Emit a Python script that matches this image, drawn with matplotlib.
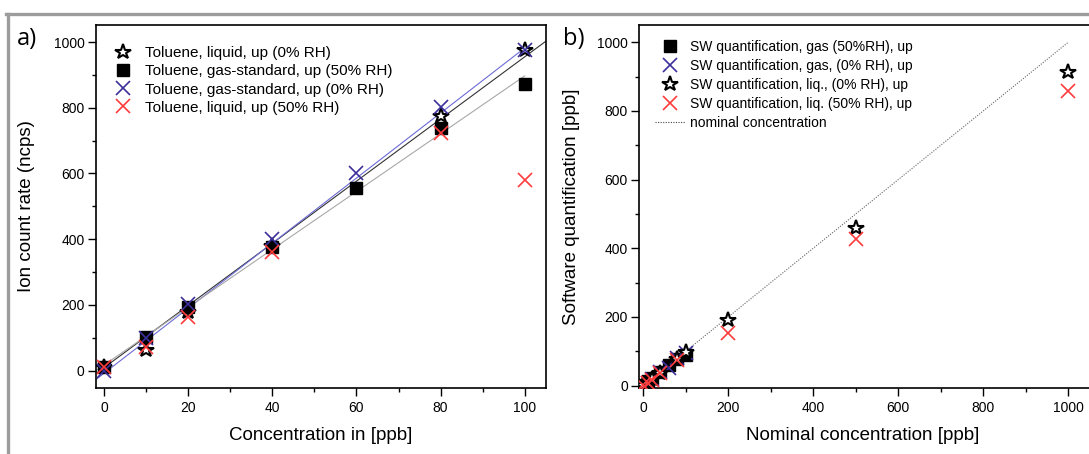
import numpy as np
import matplotlib
matplotlib.use("Agg")
import matplotlib.pyplot as plt
from matplotlib.lines import Line2D

plt.rcParams['font.family'] = ['Liberation Sans', 'DejaVu Sans']

# ---- panel a) data: toluene calibration ----
conc_a = [0, 10, 20, 40, 60, 80, 100]
liq0_x = [0, 10, 20, 40, 80, 100]
liq0_y = [10, 62, 178, 380, 775, 976]
gas50_y = [10, 101, 193, 377, 557, 738, 873]
gas0_y = [0, 100, 203, 400, 601, 802, 977]
liq50_x = [0, 10, 20, 40, 80, 100]
liq50_y = [12, 73, 164, 360, 724, 580]

# linear fits: (slope, intercept, x_end)
fit_names = ['liq0', 'gas0', 'gas50']
fit_slope = [9.46, 9.9, 8.8]
fit_intercept = [9, -8, 17]
fit_xend = [105, 100, 100]
fit_colors = ['#333333', '#6b6bd6', '#a8a8a8']

# ---- panel b) data: software quantification ----
nom_gas = [0, 10, 20, 40, 60, 80, 100]
sw_gas50 = [3, 12, 22, 41, 61, 76, 90]
sw_gas0 = [0, 9, 19, 40, 51, 80, 96]
nom_liq0 = [0, 10, 20, 40, 80, 100, 200, 500, 1000]
sw_liq0 = [3, 8, 18, 38, 78, 97, 192, 458, 914]
nom_liq50 = [0, 10, 20, 40, 80, 200, 500, 1000]
sw_liq50 = [2, 8, 17, 36, 74, 153, 427, 859]
nominal_range = [0, 1000]

BLUE = '#3b2f9c'
RED = '#ff3b3b'
W, H = 1089, 454


def style_axes(ax):
    for s in ax.spines.values():
        s.set_linewidth(1.2)
    ax.tick_params(which='major', direction='out', length=6, width=1.0,
                   labelsize=10, pad=3)
    ax.tick_params(which='minor', direction='out', length=3, width=1.0)
    ax.tick_params(axis='y', which='major', pad=2)


def px_axes(left, right, top, bottom):
    return [left / W, 1 - bottom / H, (right - left) / W, (bottom - top) / H]


fig = plt.figure(figsize=(W / 100, H / 100), dpi=100)

# ---------- panel a ----------
ax1 = fig.add_axes(px_axes(95.7, 545.7, 25, 388))
xl1 = (-2, 105)
for k, m, b, xe, c in zip(fit_names, fit_slope, fit_intercept, fit_xend, fit_colors):
    xs = np.array([xl1[0], xe])
    ax1.plot(xs, m * xs + b, color=c, lw=0.8, zorder=2)

h_star, = ax1.plot(liq0_x, liq0_y, ls='none', marker='*', ms=11.5, mfc='white',
                   mec='black', mew=1.5, zorder=3)
h_sq, = ax1.plot(conc_a, gas50_y, ls='none', marker='s', ms=8, color='black', zorder=3)
h_bx, = ax1.plot(conc_a, gas0_y, ls='none', marker='x', ms=10.5, mew=1.2, color=BLUE, zorder=4)
h_rx, = ax1.plot(liq50_x, liq50_y, ls='none', marker='x', ms=10.5, mew=1.2, color=RED, zorder=5)

ax1.set_xlim(*xl1)
ax1.set_ylim(-53, 1052)
ax1.set_xticks(range(0, 101, 20))
ax1.set_xticks(range(10, 101, 20), minor=True)
ax1.set_yticks(range(0, 1001, 200))
ax1.set_yticks(range(100, 1001, 200), minor=True)
style_axes(ax1)
ax1.set_xlabel('Concentration in [ppb]', fontsize=13.5)
ax1.set_ylabel('Ion count rate (ncps)', fontsize=13.5)
ax1.xaxis.label.set_va('center')
ax1.yaxis.label.set_va('center')
ax1.xaxis.set_label_coords(0.5, (388 - 436) / 363)
ax1.yaxis.set_label_coords((27 - 95.7) / 450, 0.5)
ax1.legend([h_star, h_sq, h_bx, h_rx],
           ['Toluene, liquid, up (0% RH)', 'Toluene, gas-standard, up (50% RH)',
            'Toluene, gas-standard, up (0% RH)', 'Toluene, liquid, up (50% RH)'],
           loc='upper left', bbox_to_anchor=((106 - 95.7) / 450, 1 - (46 - 25) / 363),
           frameon=False, fontsize=11, borderpad=0, borderaxespad=0,
           handlelength=2.2, handletextpad=0.35, labelspacing=0.28)

# ---------- panel b ----------
ax2 = fig.add_axes(px_axes(639, 639 + 0.4251 * 1070, 25, 388))
ax2.plot(nominal_range, nominal_range, ls=(0, (1, 1.3)), color='#666666', lw=0.8,
         zorder=2, label='nominal concentration')
g_sq, = ax2.plot(nom_gas, sw_gas50, ls='none', marker='s', ms=8, color='black', zorder=3)
g_bx, = ax2.plot(nom_gas, sw_gas0, ls='none', marker='x', ms=10.5, mew=1.2, color=BLUE, zorder=4)
g_st, = ax2.plot(nom_liq0, sw_liq0, ls='none', marker='*', ms=11.5, mfc='white',
                 mec='black', mew=1.5, zorder=5)
g_rx, = ax2.plot(nom_liq50, sw_liq50, ls='none', marker='x', ms=10.5, mew=1.2, color=RED, zorder=6)
g_nom = Line2D([], [], ls=(0, (1, 1.3)), color='#444444', lw=0.8)

ax2.set_xlim(-10, 1060)
ax2.set_ylim(-7, 1050)
ax2.set_xticks(range(0, 1001, 200))
ax2.set_xticks(range(100, 1001, 200), minor=True)
ax2.set_yticks(range(0, 1001, 200))
ax2.set_yticks(range(100, 1001, 200), minor=True)
style_axes(ax2)
ax2.set_xlabel('Nominal concentration [ppb]', fontsize=13.5)
ax2.set_ylabel('Software quantification [ppb]', fontsize=13.5)
ax2.xaxis.label.set_va('center')
ax2.yaxis.label.set_va('center')
ax2.xaxis.set_label_coords((863 - 639) / (0.4251 * 1070), (388 - 436) / 363)
ax2.yaxis.set_label_coords((571 - 639) / (0.4251 * 1070), 0.5)
ax2.legend([g_sq, g_bx, g_st, g_rx, g_nom],
           ['SW quantification, gas (50%RH), up', 'SW quantification, gas, (0% RH), up',
            'SW quantification, liq., (0% RH), up', 'SW quantification, liq. (50% RH), up',
            'nominal concentration'],
           loc='upper left',
           bbox_to_anchor=((654.5 - 639) / (0.4251 * 1070), 1 - (40 - 25) / 363),
           frameon=False, fontsize=10, borderpad=0, borderaxespad=0,
           handlelength=2.2, handletextpad=0.35, labelspacing=0.36)

# panel labels and gray frame
fig.text(17 / W, 1 - 39 / H, 'a)', fontsize=17, family=['Open Sans', 'DejaVu Sans'],
         va='center', ha='left')
fig.text(563 / W, 1 - 39 / H, 'b)', fontsize=17, family=['Open Sans', 'DejaVu Sans'],
         va='center', ha='left')
fig.add_artist(Line2D([6 / W, 1], [1 - 14 / H, 1 - 14 / H], transform=fig.transFigure,
                      color='#9c9c9c', lw=2.4))
fig.add_artist(Line2D([7.5 / W, 7.5 / W], [0, 1 - 14 / H], transform=fig.transFigure,
                      color='#9c9c9c', lw=2.4))

fig.savefig('out.png', dpi=100)
